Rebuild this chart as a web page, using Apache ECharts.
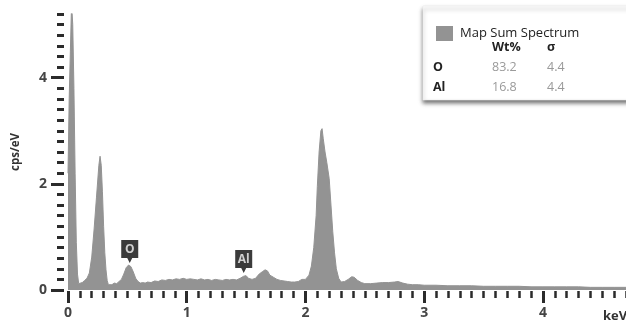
<!DOCTYPE html>
<html>
<head>
<meta charset="utf-8">
<script src="https://cdn.jsdelivr.net/npm/echarts@6/dist/echarts.min.js"></script>
<style>html,body{margin:0;padding:0;background:#fff}#c{width:626px;height:323px}</style>
</head>
<body>
<div id="c"></div>
<script>
// ---- data ----
const energyKeV = [0.00,0.01,0.02,0.03,0.04,0.05,0.06,0.07,0.08,0.09,0.10,0.12,0.14,0.16,0.18,0.20,0.22,0.24,0.26,0.27,0.28,0.29,0.30,0.31,0.32,0.33,0.34,0.35,0.37,0.39,0.41,0.43,0.45,0.47,0.49,0.51,0.53,0.55,0.57,0.59,0.61,0.63,0.65,0.67,0.70,0.73,0.76,0.79,0.82,0.85,0.88,0.91,0.94,0.97,1.00,1.03,1.06,1.09,1.12,1.15,1.18,1.21,1.24,1.27,1.30,1.33,1.36,1.39,1.42,1.45,1.48,1.50,1.52,1.55,1.58,1.61,1.64,1.66,1.68,1.70,1.73,1.76,1.79,1.82,1.85,1.88,1.91,1.94,1.97,2.00,2.03,2.05,2.07,2.09,2.10,2.115,2.13,2.14,2.15,2.165,2.18,2.20,2.215,2.23,2.245,2.26,2.28,2.30,2.33,2.36,2.39,2.41,2.44,2.47,2.50,2.55,2.60,2.65,2.70,2.75,2.78,2.82,2.86,2.90,2.95,3.00,3.10,3.20,3.30,3.40,3.50,3.60,3.70,3.80,3.90,4.00,4.10,4.20,4.30,4.40,4.50,4.60,4.70];
const countsCps = [2.2,3.6,4.5,5.4,5.0,3.8,2.2,0.9,0.3,0.12,0.10,0.14,0.18,0.22,0.32,0.62,1.15,1.75,2.35,2.52,2.35,1.85,1.2,0.7,0.38,0.18,0.10,0.09,0.10,0.13,0.12,0.16,0.20,0.30,0.42,0.47,0.44,0.34,0.22,0.16,0.13,0.14,0.13,0.15,0.14,0.17,0.16,0.19,0.18,0.20,0.19,0.21,0.20,0.22,0.20,0.21,0.20,0.19,0.21,0.19,0.20,0.18,0.20,0.19,0.18,0.20,0.19,0.20,0.19,0.22,0.26,0.27,0.22,0.20,0.22,0.30,0.35,0.38,0.36,0.28,0.24,0.20,0.18,0.17,0.16,0.15,0.15,0.16,0.20,0.20,0.28,0.45,0.80,1.40,1.95,2.60,3.00,3.04,2.85,2.60,2.40,2.10,1.60,1.10,0.70,0.40,0.22,0.15,0.16,0.20,0.25,0.24,0.18,0.14,0.12,0.12,0.13,0.14,0.14,0.15,0.16,0.13,0.11,0.10,0.10,0.09,0.09,0.08,0.08,0.08,0.07,0.07,0.07,0.07,0.06,0.06,0.06,0.06,0.06,0.05,0.05,0.05,0.05];
const xMajorTicks = [0,1,2,3,4];
const yMajorTicks = [0,2,4];
const markerNames = ['O','Al'];
const markerKeV = [0.52,1.48];
const markerCps = [0.51,0.32];
const seriesName = 'Map Sum Spectrum';
const tableHeader = ['Wt%','σ'];
const tableElements = ['O','Al'];
const wtPercent = ['83.2','16.8'];
const sigmaValues = ['4.4','4.4'];
const xUnit = 'keV';
const yUnit = 'cps/eV';

const chart = echarts.init(document.getElementById('c'), null, {renderer:'canvas'});
const FONT = '"Open Sans", sans-serif';
const tickColor = '#2b2b2b';
const pin = 'path://M0,0 L17,0 L17,18 L11,18 L8.5,23 L6,18 L0,18 Z';

const tableTexts = [];
const colX = [492, 547];
tableHeader.forEach((h,i)=>tableTexts.push({type:'text', z:20, style:{x:colX[i], y:47, text:h, fill:'#222', font:'bold 12.5px '+FONT, textVerticalAlign:'middle'}}));
tableElements.forEach((e,r)=>{
  const y = 67 + r*20;
  tableTexts.push({type:'text', z:20, style:{x:433, y:y, text:e, fill:'#222', font:'bold 12.5px '+FONT, textVerticalAlign:'middle'}});
  tableTexts.push({type:'text', z:20, style:{x:colX[0], y:y, text:wtPercent[r], fill:'#9a9a9a', font:'12.5px '+FONT, textVerticalAlign:'middle'}});
  tableTexts.push({type:'text', z:20, style:{x:colX[1], y:y, text:sigmaValues[r], fill:'#9a9a9a', font:'12.5px '+FONT, textVerticalAlign:'middle'}});
});

const common = {min:0, axisLine:{show:false, onZero:false}, splitLine:{show:false}};

chart.setOption({
  animation:false,
  backgroundColor:'#fff',
  grid:{left:68, right:0, top:14, bottom:33},
  legend:{
    data:[seriesName], left:431, top:21, icon:'rect', itemWidth:17, itemHeight:15, z:20,
    textStyle:{fontFamily:FONT, fontSize:13, color:'#222', padding:[0,0,0,2]}
  },
  graphic:[
    {type:'rect', z:5, shape:{x:423, y:6, width:210, height:94},
     style:{fill:'#fff', stroke:'#ececec', lineWidth:0.6, shadowColor:'rgba(0,0,0,0.55)', shadowBlur:4, shadowOffsetY:3, shadowOffsetX:0}},
    ...tableTexts,
    {type:'text', z:20, style:{x:603, y:316, text:xUnit, fill:'#333', font:'bold 13px '+FONT, textVerticalAlign:'middle'}}
  ],
  xAxis:[
    Object.assign({type:'value', max:4.7, interval:0.1, position:'bottom', offset:1,
      axisTick:{length:7, lineStyle:{color:tickColor, width:2.5}},
      axisLabel:{show:false}}, common),
    Object.assign({type:'value', max:4.7, interval:1, position:'bottom', offset:1,
      axisTick:{length:12, customValues:xMajorTicks, lineStyle:{color:tickColor, width:3}},
      axisLabel:{customValues:xMajorTicks, margin:15, fontFamily:FONT, fontSize:14, fontWeight:'bold', color:'#444',
        formatter:v=>xMajorTicks.includes(v)?String(v):''}}, common)
  ],
  yAxis:[
    Object.assign({type:'value', max:5.2, interval:0.2, position:'left', offset:4,
      axisTick:{length:7, lineStyle:{color:tickColor, width:3}},
      axisLabel:{show:false},
      name:yUnit, nameLocation:'middle', nameRotate:90, nameGap:42,
      nameTextStyle:{fontFamily:FONT, fontSize:11.5, fontWeight:'bold', color:'#333'}}, common),
    Object.assign({type:'value', max:5.2, interval:2, position:'left', offset:4,
      axisTick:{length:13, customValues:yMajorTicks, lineStyle:{color:tickColor, width:3}},
      axisLabel:{customValues:yMajorTicks, margin:17, fontFamily:FONT, fontSize:14, fontWeight:'bold', color:'#444',
        formatter:v=>yMajorTicks.includes(v)?String(v):''}}, common)
  ],
  series:[{
    name:seriesName, type:'line', xAxisIndex:0, yAxisIndex:0,
    data:energyKeV.map((x,i)=>[x,countsCps[i]]),
    symbol:'none', smooth:false,
    lineStyle:{color:'#939393', width:1},
    itemStyle:{color:'#939393'},
    areaStyle:{color:'#939393', opacity:1},
    markPoint:{
      symbol:pin, symbolSize:[17,23], symbolOffset:[0,'-50%'],
      itemStyle:{color:'#3b3b3b'},
      label:{show:true, position:'inside', offset:[0,-2], formatter:'{b}', color:'#d0d0d0', fontFamily:FONT, fontSize:12, fontWeight:'bold'},
      data:markerNames.map((n,i)=>({name:n, coord:[markerKeV[i], markerCps[i]]}))
    }
  }]
});
</script>
</body>
</html>
